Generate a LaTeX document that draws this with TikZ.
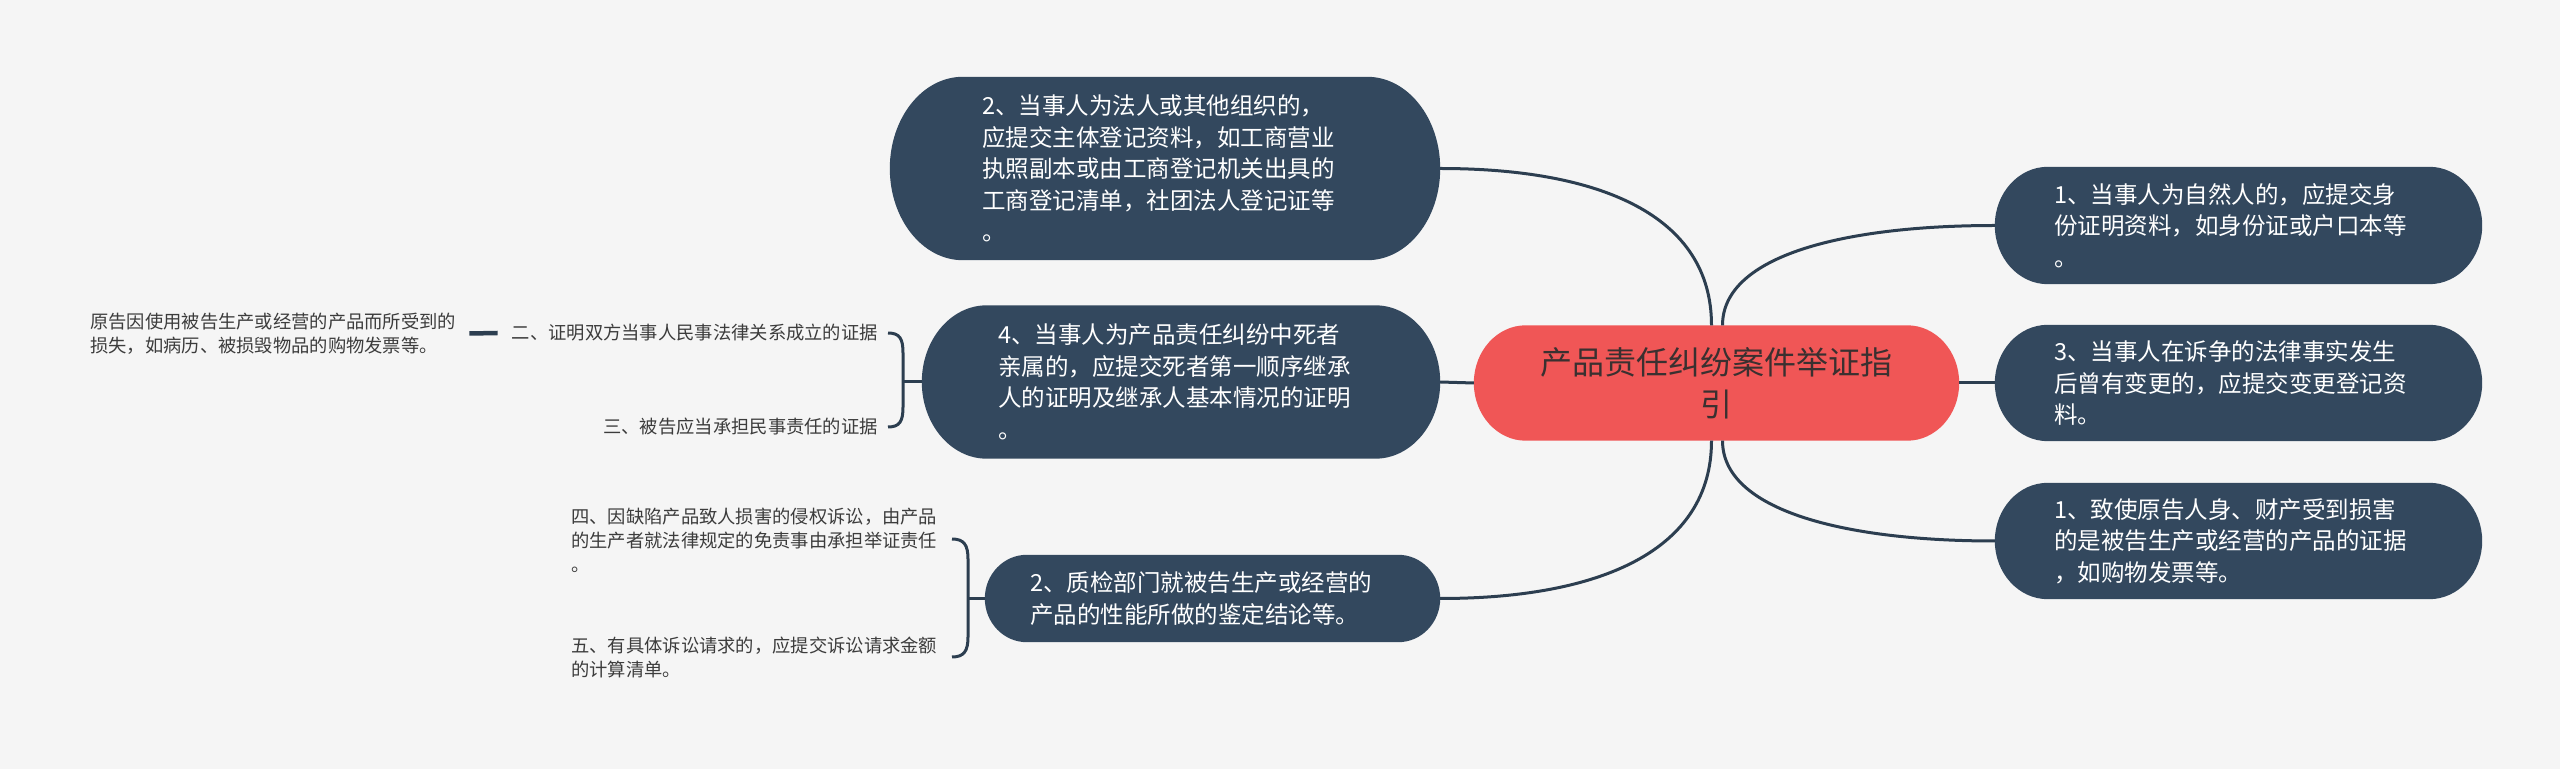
\documentclass[tikz,border=0pt]{standalone}
\usepackage{fontspec}
\newfontfamily\cjk{Noto Sans CJK SC}
\usetikzlibrary{calc,backgrounds}
\definecolor{bgc}{HTML}{F5F5F5}
\definecolor{boxc}{HTML}{33485E}
\definecolor{redc}{HTML}{F05656}
\definecolor{linec}{HTML}{2C3E50}
\definecolor{labc}{HTML}{3C3C3C}
\definecolor{centc}{HTML}{3A3030}
\newcommand\pillfill[3]{%
  \fill[#3] let \p1=(#1.north west), \p2=(#1.south east) in
    (\x1+#2,\y1) -- (\x2-#2,\y1)
    arc[start angle=90,end angle=-90,x radius=#2,y radius={(\y1-\y2)/2}]
    -- (\x1+#2,\y2)
    arc[start angle=270,end angle=90,x radius=#2,y radius={(\y1-\y2)/2}]
    -- cycle;}
\begin{document}
\begin{tikzpicture}[x=1pt,y=1pt,
  boxnode/.style={font={\cjk\fontsize{23.5}{31.5}\selectfont}, text=white, align=left, inner ysep=0pt},
  cennode/.style={font={\cjk\fontsize{32}{42}\selectfont}, text=centc, align=center, inner sep=0pt, minimum width=485, minimum height=115},
  labnode/.style={font={\cjk\fontsize{18.3}{24}\selectfont}, text=labc, align=left, inner sep=0pt},
  conn/.style={draw=linec, line width=3pt}]
\useasboundingbox (0,0) rectangle (2560,769);

% central
\node[cennode] (cen) at (1716.5,386) {产品责任纠纷案件举证指\\引};

% right boxes
\node[boxnode, minimum height=117, inner xsep=59, text width=369] (r1) at (2238.5,543.5)
  {1、当事人为自然人的，应提交身\\份证明资料，如身份证或户口本等\\。};
\node[boxnode, minimum height=116, inner xsep=59, text width=369] (r2) at (2238.5,386)
  {3、当事人在诉争的法律事实发生\\后曾有变更的，应提交变更登记资\\料。};
\node[boxnode, minimum height=116, inner xsep=59, text width=369] (r3) at (2238.5,228)
  {1、致使原告人身、财产受到损害\\的是被告生产或经营的产品的证据\\，如购物发票等。};

% left boxes
\node[boxnode, minimum height=183, inner xsep=92, text width=366] (lt) at (1165,600.5)
  {2、当事人为法人或其他组织的，\\应提交主体登记资料，如工商营业\\执照副本或由工商登记机关出具的\\工商登记清单，社团法人登记证等\\。};
\node[boxnode, minimum height=153, inner xsep=76, text width=366] (lm) at (1181,387)
  {4、当事人为产品责任纠纷中死者\\亲属的，应提交死者第一顺序继承\\人的证明及继承人基本情况的证明\\。};
\node[boxnode, minimum height=87, inner xsep=45, text width=365] (lb) at (1212.5,170.5)
  {2、质检部门就被告生产或经营的\\产品的性能所做的鉴定结论等。};

% labels
\node[labnode, anchor=east] (l2) at (878,436) {二、证明双方当事人民事法律关系成立的证据};
\node[labnode, anchor=east] (l3) at (878,342) {三、被告应当承担民事责任的证据};
\node[labnode, anchor=west] (l1) at (90,435.5) {原告因使用被告生产或经营的产品而所受到的\\损失，如病历、被损毁物品的购物发票等。};
\node[labnode, anchor=west] (l4) at (571,229) {四、因缺陷产品致人损害的侵权诉讼，由产品\\的生产者就法律规定的免责事由承担举证责任\\。};
\node[labnode, anchor=west] (l5) at (571,112) {五、有具体诉讼请求的，应提交诉讼请求金额\\的计算清单。};

\coordinate (bBt) at (952,230);
\coordinate (bBb) at (952,112);

% main connectors
\draw[conn] (lt.east) .. controls +(160,0) and +(0,110) .. ([xshift=-5pt]cen.north);
\draw[conn] ([xshift=6pt]cen.north) .. controls +(0,70) and +(-150,0) .. (r1.west);
\draw[conn] (lb.east) .. controls +(160,0) and +(0,-110) .. ([xshift=-5pt]cen.south);
\draw[conn] ([xshift=6pt]cen.south) .. controls +(0,-70) and +(-150,0) .. (r3.west);
\draw[conn] (cen.west) -- (lm.east);
\draw[conn] (cen.east) -- (r2.west);

% brackets
\draw[conn] ([xshift=10pt]l2.east) .. controls +(12,0) and +(0,14) .. +(15,-20)
  -- ([xshift=25pt,yshift=20pt]l3.east) .. controls +(0,-14) and +(12,0) .. ([xshift=10pt]l3.east);
\draw[conn] (lm.west) -- ++(-19,0);
\draw[conn] (bBt) .. controls +(12,0) and +(0,14) .. +(16,-20)
  -- ([xshift=16pt,yshift=20pt]bBb) .. controls +(0,-14) and +(12,0) .. (bBb);
\draw[conn] (lb.west) -- ++(-17,0);
\draw[draw=linec, line width=4.5pt] ([xshift=13pt]l1.east) -- ([xshift=-14pt]l2.west);

\begin{scope}[on background layer]
  \fill[bgc] (0,0) rectangle (2560,769);
  \pillfill{cen}{52pt}{redc}
  \pillfill{r1}{53pt}{boxc}
  \pillfill{r2}{53pt}{boxc}
  \pillfill{r3}{53pt}{boxc}
  \pillfill{lt}{73pt}{boxc}
  \pillfill{lm}{65pt}{boxc}
  \pillfill{lb}{42pt}{boxc}
\end{scope}
\end{tikzpicture}
\end{document}
